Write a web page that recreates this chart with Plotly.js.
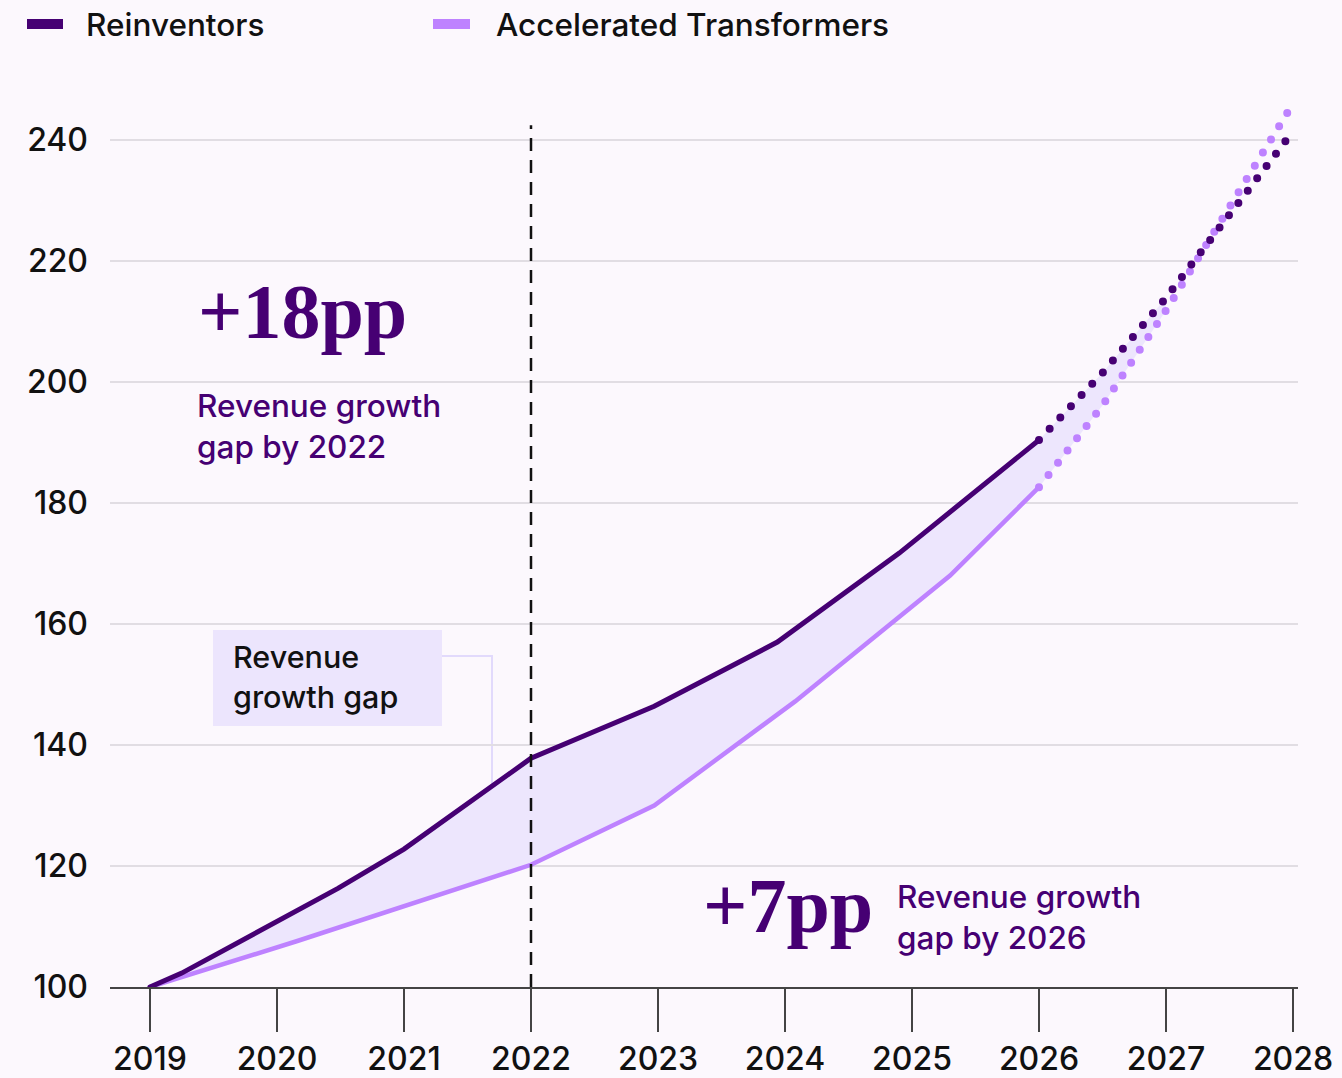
<!DOCTYPE html>
<html><head><meta charset="utf-8">
<script src="https://cdn.plot.ly/plotly-3.0.1.min.js"></script>
<style>
html,body{margin:0;padding:0;background:#fcf8fd;}
#chart{width:1342px;height:1078px;}
.js-line{stroke-linecap:round;}
</style></head><body><div id="chart"></div>
<script>
// ---- data (index, 2019 = 100) ----
const reinvYears = [2019, 2019.25, 2020.48, 2021, 2022, 2022.97, 2023.94, 2024.9, 2026];
const reinvValues = [100, 102.3, 116.3, 122.8, 137.8, 146.4, 157.0, 171.7, 190.4];
const reinvProjYears = [2026, 2026.5, 2027, 2028];
const reinvProjValues = [190.4, 201.5, 213.9, 241.4];

const accelYears = [2019, 2020.16, 2022, 2022.97, 2024.08, 2025.3, 2026];
const accelValues = [100, 107.6, 120.2, 130.0, 147.2, 168.0, 182.6];
const accelProjYears = [2026, 2026.5, 2027, 2028];
const accelProjValues = [182.6, 196.1, 211.8, 246.0];

const xTicks = [2019, 2020, 2021, 2022, 2023, 2024, 2025, 2026, 2027, 2028];
const xTickLabels = ['2019','2020','2021','2022','2023','2024','2025','2026','2027','2028'];
const yTicks = [100, 120, 140, 160, 180, 200, 220, 240];
const dividerYear = 2022;
const seriesNames = ['Reinventors', 'Accelerated Transformers'];
const gap2022 = '+18pp';
const gap2026 = '+7pp';

// ---- styling ----
const DARK = '#460073';
const LIGHT = '#be82ff';
const FILL = '#ede6fd';
const BG = '#fcf8fd';
const FONT = 'Inter, "Noto Sans", sans-serif';
const SERIF = '"Liberation Serif", "DejaVu Serif", serif';

const L = 110, R = 44, T = 90, B = 91, W = 1342, H = 1078;
const PW = W - L - R, PH = H - T - B;
const px = x => (x - L) / PW;
const py = y => (H - B - y) / PH;

// fill region (solid part + projection up to 2027)
const fillAccelX = accelYears.concat(accelProjYears.slice(1, 3));
const fillAccelY = accelValues.concat(accelProjValues.slice(1, 3));
const fillReinvX = reinvYears.concat(reinvProjYears.slice(1, 3));
const fillReinvY = reinvValues.concat(reinvProjValues.slice(1, 3));

const traces = [
  {x: fillAccelX, y: fillAccelY, mode: 'lines', line: {width: 0, color: FILL}, hoverinfo: 'skip', showlegend: false},
  {x: fillReinvX, y: fillReinvY, mode: 'lines', fill: 'tonexty', fillcolor: FILL, line: {width: 0, color: FILL}, hoverinfo: 'skip', showlegend: false},
  {x: accelProjYears, y: accelProjValues, mode: 'lines', name: seriesNames[1] + ' (projected)', line: {color: LIGHT, width: 8, dash: '0px,15.5px'}, showlegend: false},
  {x: reinvProjYears, y: reinvProjValues, mode: 'lines', name: seriesNames[0] + ' (projected)', line: {color: DARK, width: 8, dash: '0px,15.5px'}, showlegend: false},
  {x: accelYears, y: accelValues, mode: 'lines', name: seriesNames[1], line: {color: LIGHT, width: 4.5}, showlegend: false},
  {x: reinvYears, y: reinvValues, mode: 'lines', name: seriesNames[0], line: {color: DARK, width: 5}, showlegend: false}
];

const xStart = 2019 - (150 - L) / 127;
const xEnd = xStart + PW / 127;
const yTop = 100 + PH / 6.051;

const TICKFONT = {family: FONT, size: 32, color: '#111', weight: 500};

const layout = {
  width: W, height: H,
  margin: {l: L, r: R, t: T, b: B, pad: 0},
  paper_bgcolor: BG, plot_bgcolor: BG,
  showlegend: false,
  xaxis: {
    range: [xStart, xEnd], tickvals: xTicks, ticktext: xTickLabels,
    ticks: 'outside', ticklen: 43, tickwidth: 1.5, tickcolor: '#444',
    showline: true, linecolor: '#444', linewidth: 2,
    showgrid: false, zeroline: false, ticklabelstandoff: 0,
    tickfont: TICKFONT
  },
  yaxis: {
    range: [100, yTop], tickvals: yTicks, ticktext: yTicks.map(String),
    ticks: '', showline: false, zeroline: false,
    showgrid: true, gridcolor: '#e1dde3', gridwidth: 1.5,
    ticklabelstandoff: 21,
    tickfont: TICKFONT
  },
  shapes: [
    // divider at 2022
    {type: 'line', xref: 'x', yref: 'y', x0: dividerYear, x1: dividerYear, y0: 100, y1: 242.4,
     line: {color: '#111', width: 2.5, dash: '13px,9px'}, layer: 'above'},
    // callout box
    {type: 'rect', xref: 'paper', yref: 'paper', x0: px(213), x1: px(442), y0: py(630), y1: py(726),
     fillcolor: '#ece5fd', line: {width: 0}, layer: 'below'},
    // connector
    {type: 'path', xref: 'paper', yref: 'paper',
     path: `M ${px(442)} ${py(656)} L ${px(492)} ${py(656)} L ${px(492)} ${py(824)}`,
     line: {color: '#e2dafc', width: 2}, layer: 'below'},
    // legend swatches
    {type: 'rect', xref: 'paper', yref: 'paper', x0: px(27), x1: px(63), y0: py(29), y1: py(19),
     fillcolor: DARK, line: {width: 0}},
    {type: 'rect', xref: 'paper', yref: 'paper', x0: px(433), x1: px(470), y0: py(29), y1: py(19),
     fillcolor: LIGHT, line: {width: 0}}
  ],
  annotations: [
    {text: seriesNames[0], xref: 'paper', yref: 'paper', x: px(84), y: py(24), xanchor: 'left', yanchor: 'middle',
     showarrow: false, font: {family: FONT, size: 31.5, color: '#111', weight: 500}},
    {text: seriesNames[1], xref: 'paper', yref: 'paper', x: px(494), y: py(24), xanchor: 'left', yanchor: 'middle',
     showarrow: false, font: {family: FONT, size: 31.5, color: '#111', weight: 500}},
    {text: gap2022, xref: 'paper', yref: 'paper', x: px(196), y: py(312), xanchor: 'left', yanchor: 'middle',
     showarrow: false, font: {family: SERIF, size: 78, color: DARK, weight: 700}},
    {text: 'Revenue growth<br>gap by 2022', xref: 'paper', yref: 'paper', x: px(195), y: py(426), xanchor: 'left', yanchor: 'middle',
     align: 'left', showarrow: false, font: {family: FONT, size: 31.5, color: DARK, weight: 500}},
    {text: 'Revenue<br>growth gap', xref: 'paper', yref: 'paper', x: px(231), y: py(677), xanchor: 'left', yanchor: 'middle',
     align: 'left', showarrow: false, font: {family: FONT, size: 30.5, color: '#111', weight: 500}},
    {text: gap2026, xref: 'paper', yref: 'paper', x: px(701), y: py(905), xanchor: 'left', yanchor: 'middle',
     showarrow: false, font: {family: SERIF, size: 78, color: DARK, weight: 700}},
    {text: 'Revenue growth<br>gap by 2026', xref: 'paper', yref: 'paper', x: px(895), y: py(917), xanchor: 'left', yanchor: 'middle',
     align: 'left', showarrow: false, font: {family: FONT, size: 31.5, color: DARK, weight: 500}}
  ]
};

Plotly.newPlot('chart', traces, layout, {displayModeBar: false, staticPlot: true});
</script></body></html>
